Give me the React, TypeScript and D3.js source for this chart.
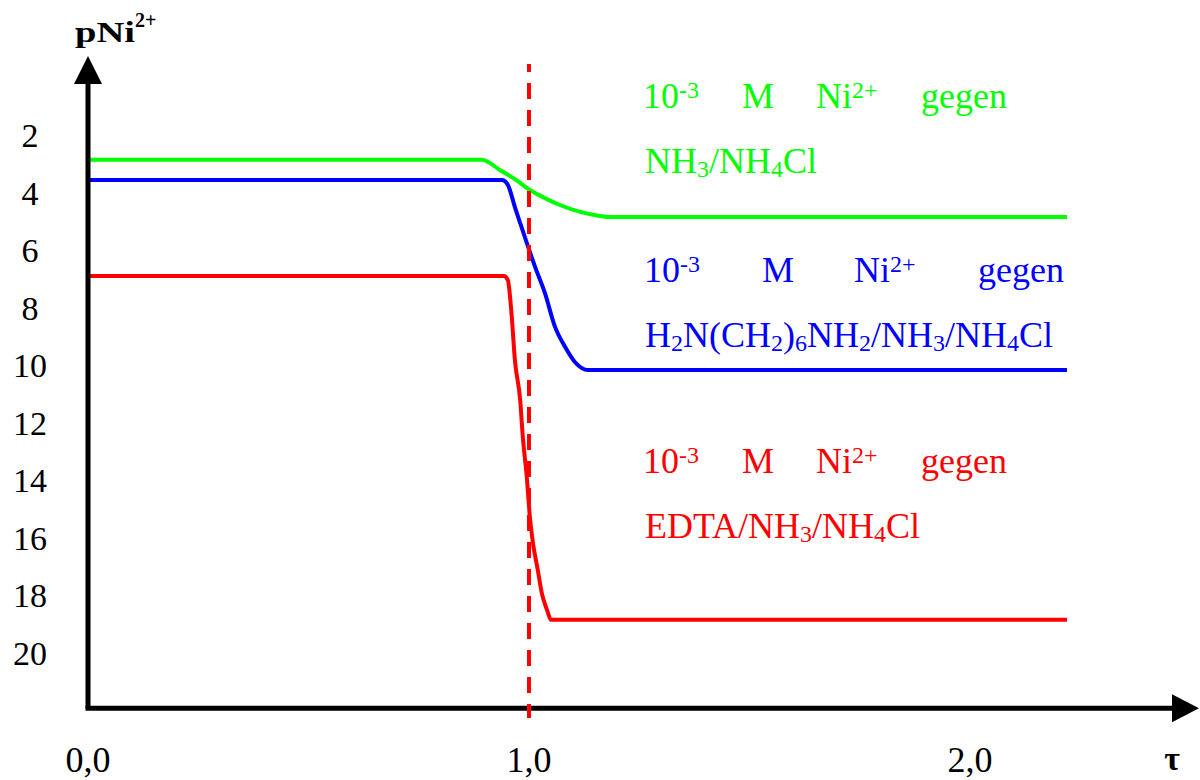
import React from 'react';
import * as d3 from 'd3';

// pNi2+ titration curves
const greenTau = [0, 0.893, 0.934, 0.968, 1.002, 1.036, 1.07, 1.116, 1.161, 1.184, 2.22];
const greenP = [2.83, 2.83, 3.18, 3.5, 3.88, 4.16, 4.4, 4.64, 4.78, 4.82, 4.82];

const blueTau = [0, 0.939, 0.952, 0.968, 0.98, 0.995, 1.014, 1.036, 1.059, 1.082, 1.104, 1.134, 2.22];
const blueP = [3.53, 3.53, 3.7, 4.47, 5.03, 5.72, 6.56, 7.46, 8.64, 9.34, 9.86, 10.14, 10.14];

const redTau = [0, 0.943, 0.952, 0.961, 0.968, 0.98, 0.986, 0.995, 1.002, 1.009, 1.02, 1.029, 1.041, 1.05, 2.22];
const redP = [6.87, 6.87, 7.01, 8.3, 9.79, 11.18, 12.47, 13.86, 15.25, 16.16, 17.1, 17.9, 18.49, 18.83, 18.83];

const yTicks = [2, 4, 6, 8, 10, 12, 14, 16, 18, 20];
const xTicks = [0, 1, 2];
const xTickLabels = ['0,0', '1,0', '2,0'];
const equivalence = 1;

// legend lines: [text, 'sup' | 'sub' | '']
const legendLine1 = [['10', '-3'], ['M', ''], ['Ni', '2+'], ['gegen', '']];
const greenFormula = [['NH', ''], ['3', 'sub'], ['/NH', ''], ['4', 'sub'], ['Cl', '']];
const blueFormula = [['H', ''], ['2', 'sub'], ['N(CH', ''], ['2', 'sub'], [')', ''], ['6', 'sub'], ['NH', ''], ['2', 'sub'], ['/NH', ''], ['3', 'sub'], ['/NH', ''], ['4', 'sub'], ['Cl', '']];
const redFormula = [['EDTA/NH', ''], ['3', 'sub'], ['/NH', ''], ['4', 'sub'], ['Cl', '']];

const FONT = '"Liberation Serif", "Times New Roman", serif';

function Formula({ x, y, parts, color }: any) {
  let shift = 0;
  return (
    <text x={x} y={y} fill={color} fontSize={36} fontFamily={FONT}>
      {parts.map(([t, k]: any, i: number) => {
        const target = k === 'sub' ? 4 : 0;
        const dy = target - shift;
        shift = target;
        return (
          <tspan key={i} dy={dy} fontSize={k === 'sub' ? 24 : 36}>{t}</tspan>
        );
      })}
    </text>
  );
}

function FirstLine({ xs, y, color }: any) {
  return (
    <g fill={color} fontFamily={FONT} fontSize={36}>
      {legendLine1.map(([w, sup], i) => (
        <text key={i} x={xs[i]} y={y}>
          {w}
          {sup ? <tspan dy={-10} fontSize={24} fontFamily={FONT}>{sup}</tspan> : null}
        </text>
      ))}
    </g>
  );
}

export default function App() {
  const width = 1200;
  const height = 780;
  const x = d3.scaleLinear().domain([0, 2]).range([88, 970]);
  const y = d3.scaleLinear().domain([0, 20]).range([78.5, 653.5]);
  const axisX = x(0);
  const axisY = y(21.9);

  const line = d3.line<[number, number]>()
    .x(d => x(d[0]))
    .y(d => y(d[1]))
    .curve(d3.curveMonotoneX);

  const series = [
    { tau: greenTau, p: greenP, color: '#00ff00' },
    { tau: blueTau, p: blueP, color: '#0000ff' },
    { tau: redTau, p: redP, color: '#ff0000' },
  ];

  const rowA = [643, 742, 816, 921];
  const rowB = [644, 762, 854, 978];

  return (
    <svg width={width} height={height} style={{ position: 'absolute', left: 0, top: 0, background: '#fff' }}>
      <rect width={width} height={height} fill="#fff" />
      {series.map((s, i) => (
        <path
          key={i}
          d={line(s.tau.map((t, j) => [t, s.p[j]] as [number, number])) || ''}
          fill="none"
          stroke={s.color}
          strokeWidth={4}
        />
      ))}

      {/* axes */}
      <line x1={axisX} y1={axisY} x2={axisX} y2={84} stroke="#000" strokeWidth={5} />
      <path d={`M${axisX - 14},84 L${axisX + 14},84 L${axisX},56 Z`} fill="#000" />
      <line x1={axisX - 2.5} y1={axisY} x2={1173} y2={axisY} stroke="#000" strokeWidth={5} />
      <path d={`M1172,${axisY - 14} L1172,${axisY + 14} L1199,${axisY} Z`} fill="#000" />

      {/* equivalence point */}
      <line
        x1={x(equivalence)} y1={64} x2={x(equivalence)} y2={718}
        stroke="#ff0000" strokeWidth={4} strokeDasharray="16 11" strokeDashoffset={8}
      />

      {yTicks.map(t => (
        <text key={t} x={30} y={y(t) + 11} textAnchor="middle" fontSize={34} fontFamily={FONT}>{t}</text>
      ))}
      {xTicks.map((t, i) => (
        <text key={t} x={x(t)} y={772} textAnchor="middle" fontSize={36} fontFamily={FONT}>{xTickLabels[i]}</text>
      ))}

      <text x={75} y={42} fontSize={30} fontWeight="bold" fontFamily={FONT} textLength={60} lengthAdjust="spacingAndGlyphs">pNi</text>
      <text x={135} y={27} fontSize={20} fontWeight="bold" fontFamily={FONT}>2+</text>
      <text x={1172} y={770} textAnchor="middle" fontSize={34} fontWeight="bold" fontFamily={FONT}>τ</text>

      <FirstLine xs={rowA} y={108} color="#00ff00" />
      <Formula x={645} y={173} parts={greenFormula} color="#00ff00" />
      <FirstLine xs={rowB} y={282} color="#0000ff" />
      <Formula x={645} y={347} parts={blueFormula} color="#0000ff" />
      <FirstLine xs={rowA} y={473} color="#ff0000" />
      <Formula x={645} y={538} parts={redFormula} color="#ff0000" />
    </svg>
  );
}
